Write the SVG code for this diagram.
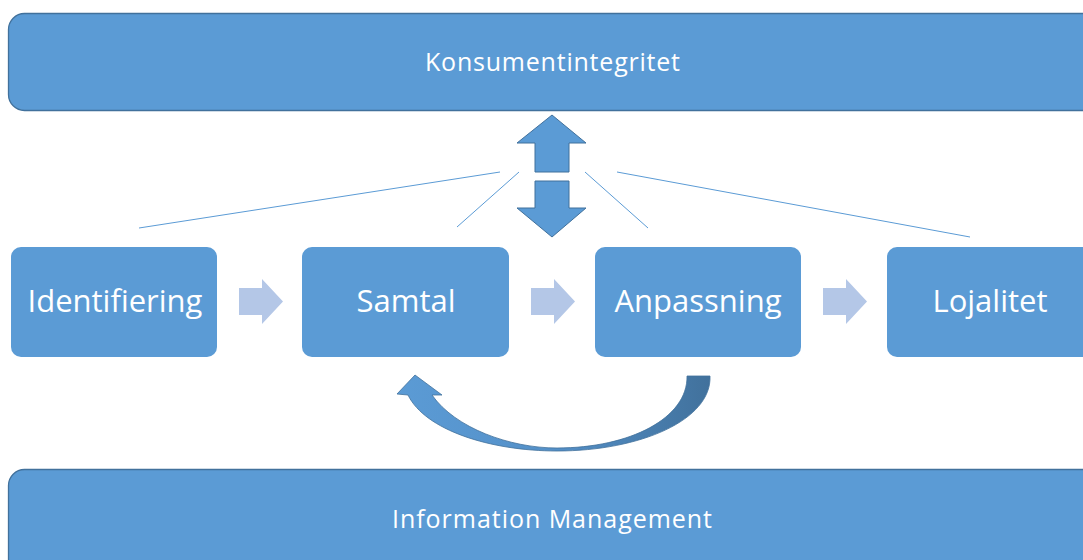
<svg xmlns="http://www.w3.org/2000/svg" width="1083" height="560" viewBox="0 0 1083 560">
<defs>
<style>
.bar{fill:#5B9BD5;stroke:#41719C;stroke-width:1.3}
.node{fill:#5B9BD5}
.t{font-family:"Open Sans","Noto Sans",sans-serif;fill:#fff;text-anchor:middle}
.big{font-size:25px}
.lbl{font-size:31px}
.sm{fill:#B4C7E7}
.ln{stroke:#5B9BD5;stroke-width:1;fill:none}
.dbl{fill:#5B9BD5;stroke:#41719C;stroke-width:1}
</style>
<linearGradient id="cg" x1="0" y1="0" x2="1" y2="0">
<stop offset="0" stop-color="#5B9BD5"/>
<stop offset="0.5" stop-color="#5490C8"/>
<stop offset="1" stop-color="#41719C"/>
</linearGradient>
</defs>
<rect width="1083" height="560" fill="#fff"/>
<g id="top">
<rect class="bar" x="8.5" y="13.5" width="1090" height="97" rx="16"/>
<text class="t big" x="552.5" y="71" textLength="255" lengthAdjust="spacing">Konsumentintegritet</text>
</g>
<g id="bottom">
<rect class="bar" x="8.5" y="469.5" width="1090" height="110" rx="16"/>
<text class="t big" x="552" y="528" textLength="320" lengthAdjust="spacing">Information Management</text>
</g>
<g id="connectors">
<line class="ln" x1="139" y1="228" x2="500" y2="172"/>
<line class="ln" x1="457" y1="227" x2="519" y2="172"/>
<line class="ln" x1="585" y1="172" x2="648" y2="228"/>
<line class="ln" x1="617" y1="172" x2="970" y2="237"/>
<polygon class="sm" points="239,288 262,288 262,279 283,301.5 262,324 262,315 239,315"/>
<polygon class="sm" points="531,288 554,288 554,279 575,301.5 554,324 554,315 531,315"/>
<polygon class="sm" points="823,288 846,288 846,279 867,301.5 846,324 846,315 823,315"/>
<polygon class="dbl" points="552,115 586,143 569,143 569,172 535,172 535,143 517,143"/>
<polygon class="dbl" points="535,181 569,181 569,208 586,208 552,237 517,208 535,208"/>
<path d="M710,376 C712,420 640,451 557,451 C490,451 425,430 408,395 L397,394 L415,375 L442,395 L432,395 C455,428 510,448 557,448 C630,448 688,418 687,376 Z" fill="url(#cg)" stroke="#41719C" stroke-width="0.8"/>
</g>
<g id="n1">
<rect class="node" x="11" y="247" width="206" height="110" rx="10"/>
<text class="t lbl" x="115" y="312">Identifiering</text>
</g>
<g id="n2">
<rect class="node" x="302" y="247" width="207" height="110" rx="10"/>
<text class="t lbl" x="406" y="312">Samtal</text>
</g>
<g id="n3">
<rect class="node" x="595" y="247" width="206" height="110" rx="10"/>
<text class="t lbl" x="698" y="312">Anpassning</text>
</g>
<g id="n4">
<rect class="node" x="887" y="247" width="210" height="110" rx="10"/>
<text class="t lbl" x="990" y="312">Lojalitet</text>
</g>
</svg>
